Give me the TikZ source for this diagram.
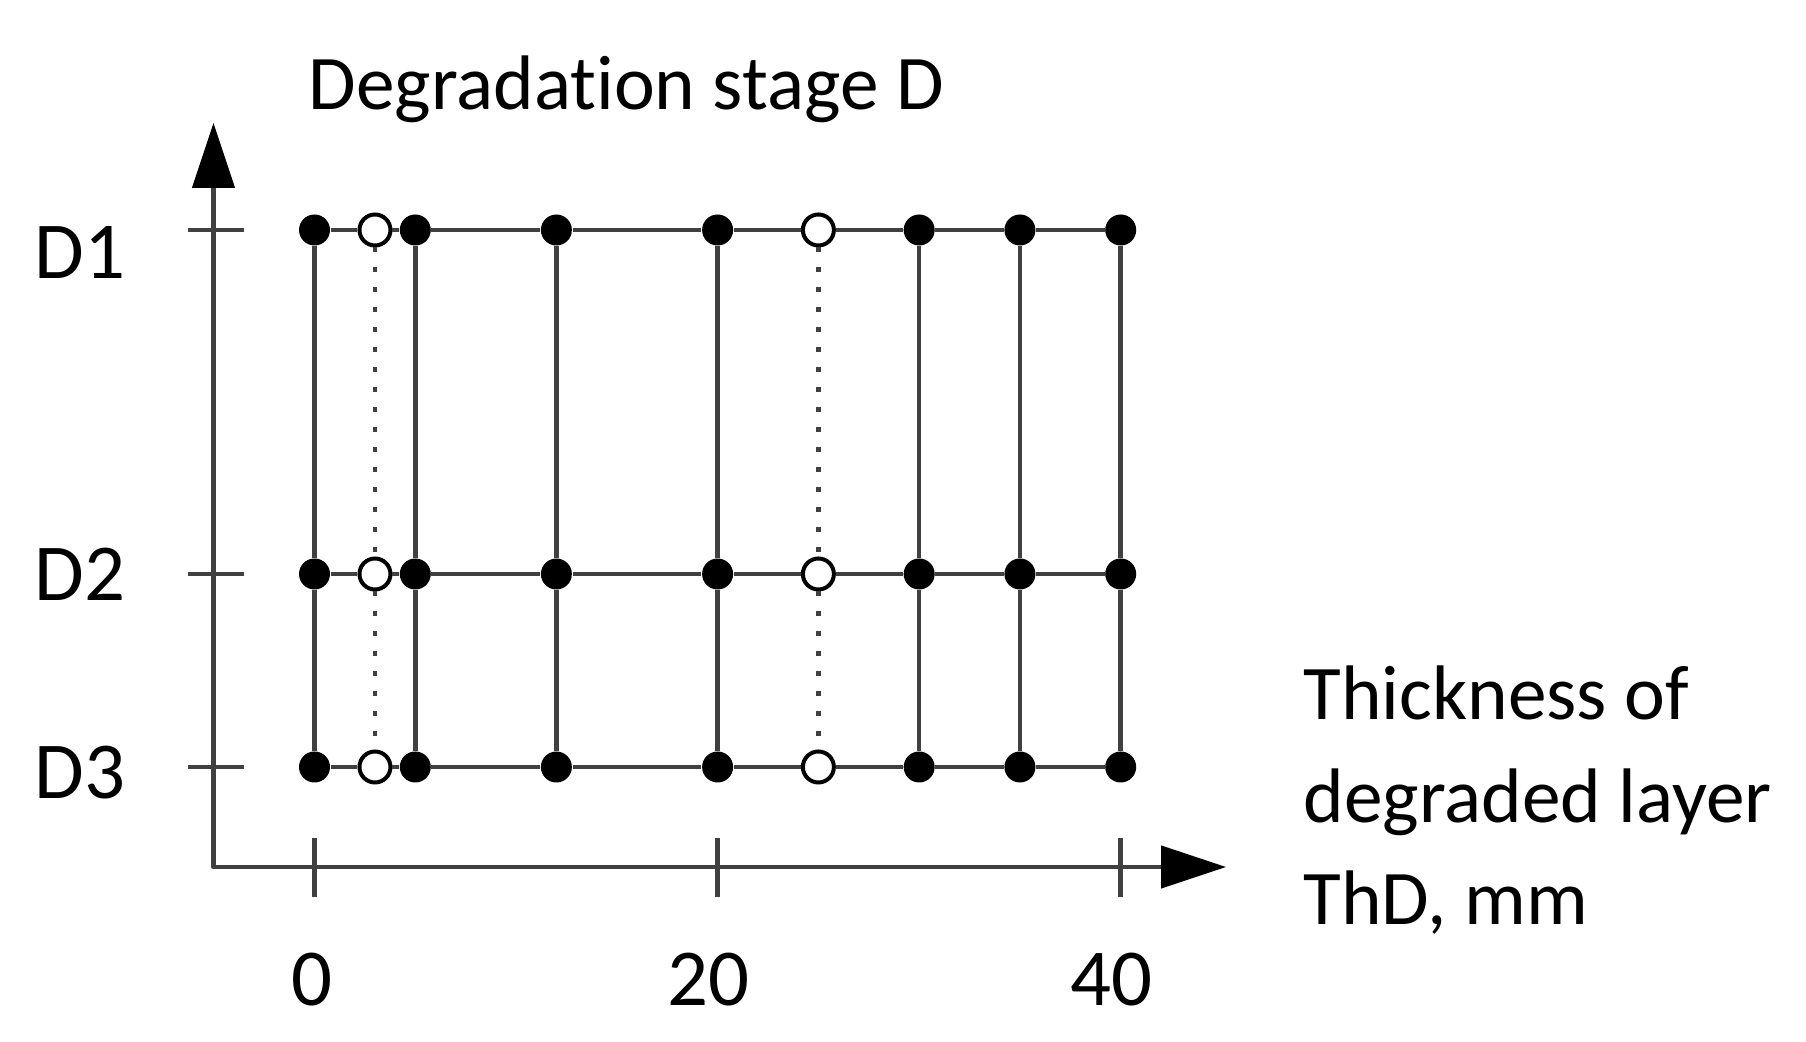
\documentclass[tikz,border=0pt]{standalone}
\usepackage{fontspec}
\setmainfont[Ligatures=NoCommon]{Carlito}
\usetikzlibrary{arrows.meta}

\begin{document}
\begin{tikzpicture}
  \tikzstyle{axis} = [line width=0.045cm, black!75, line join=round]
  \tikzstyle{grid} = [line width=0.045cm, black!75]
  \tikzstyle{probe} = [line width=0.045cm, black!75, dash pattern=on 0.05cm off 0.15cm]
  \tikzstyle{filleddot} = [circle, fill=black, inner sep=0, minimum size=0.31cm]
  \tikzstyle{opendot} = [circle, draw=black, fill=white, line width=0.04cm, inner sep=0, minimum size=0.31cm]
  \tikzstyle{lbl} = [inner sep=0, font=\fontsize{23}{28}\selectfont]

  \useasboundingbox (0,0) rectangle (18.06,10.42);

  % axes
  \coordinate (origin) at (2.135,1.75);
  \coordinate (ytip) at (2.135,9.19);
  \coordinate (xtip) at (12.26,1.75);
  \draw [axis, {Triangle[length=0.65cm, width=0.42cm, color=black]}-{Triangle[length=0.65cm, width=0.42cm, color=black]}] (ytip) -- (origin) -- (xtip);

  % measuring points, ThD in mm
  \foreach \r/\y in {1/8.12, 2/4.68, 3/2.75} {
    \foreach \m in {0,5,12,20,30,35,40}
      \node (r\r c\m) [filleddot] at (3.145+0.20155*\m, \y) {};
    \foreach \m in {3,25}
      \node (r\r c\m) [opendot] at (3.145+0.20155*\m, \y) {};
  }

  \foreach \r in {1,2,3}
    \foreach \a/\b in {0/3, 3/5, 5/12, 12/20, 20/25, 25/30, 30/35, 35/40}
      \draw [grid] (r\r c\a) -- (r\r c\b);
  \foreach \m in {0,5,12,20,30,35,40}
    \draw [grid] (r1c\m) -- (r2c\m) -- (r3c\m);
  \foreach \m in {3,25}
    \draw [probe] (r1c\m) -- (r2c\m) -- (r3c\m);

  % ticks
  \foreach \r in {1,2,3}
    \draw [axis] (origin |- r\r c0) +(-0.26,0) -- +(0.305,0);
  \foreach \m in {0,20,40}
    \draw [axis] (r3c\m |- origin) +(0,0.29) -- +(0,-0.30);

  % labels
  \node (stage1) [lbl] at (0.80,7.89) {D1};
  \node (stage2) [lbl] at (0.80,4.68) {D2};
  \node (stage3) [lbl] at (0.80,2.695) {D3};
  \node (tick0) [lbl, anchor=base] at (3.117,0.36) {0};
  \node (tick20) [lbl, anchor=base] at (7.08,0.36) {20};
  \node (tick40) [lbl, anchor=base] at (11.11,0.36) {40};

  \node (ylabel) [anchor=base west, inner sep=0, font=\fontsize{22}{26}\selectfont] at (3.08,9.32) {Degradation stage D};
  \node (xlabel) [anchor=north west, inner sep=0, align=left, font=\fontsize{22}{29.2}\selectfont] at (13.03,3.77) {Thickness of\\degraded layer\\ThD, mm};
\end{tikzpicture}
\end{document}
